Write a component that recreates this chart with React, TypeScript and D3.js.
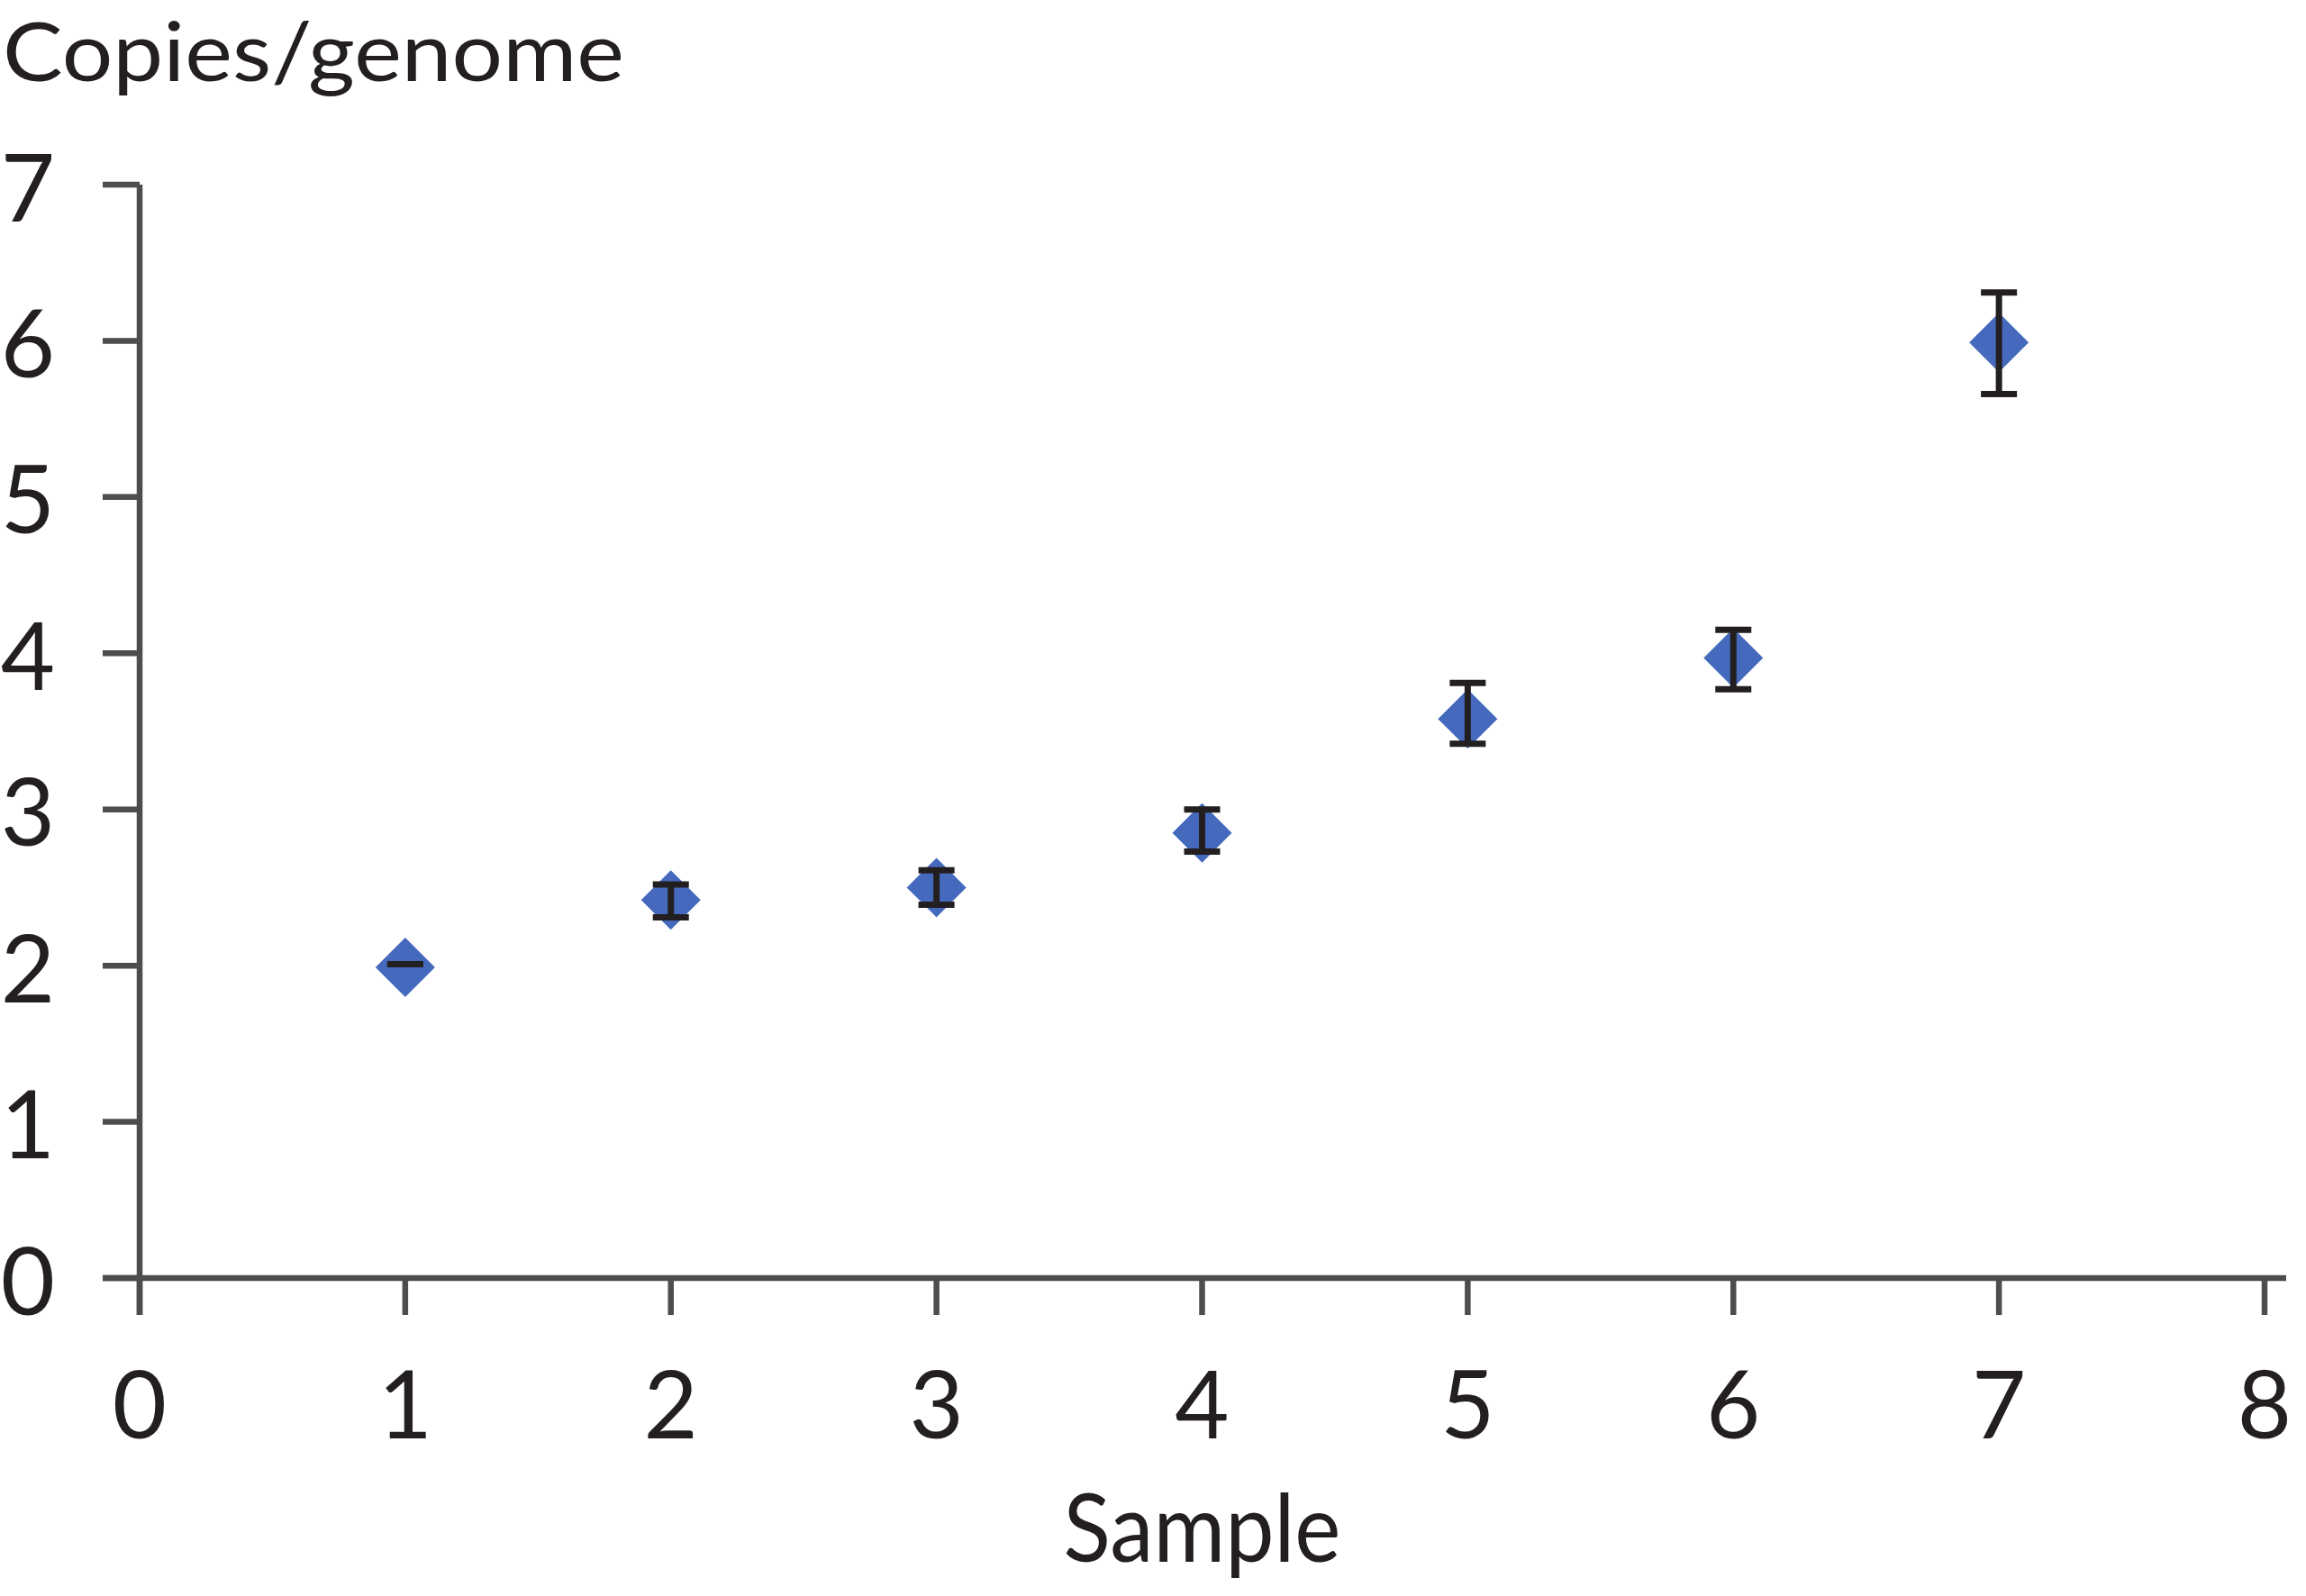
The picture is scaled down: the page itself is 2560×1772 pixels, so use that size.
import React from "react";
import * as d3 from "d3";

const samples = [1, 2, 3, 4, 5, 6, 7];
const copiesMean = [1.99, 2.42, 2.5, 2.85, 3.58, 3.97, 5.99];
const copiesUpper = [2.01, 2.52, 2.61, 3.0, 3.81, 4.15, 6.31];
const copiesLower = [2.01, 2.31, 2.39, 2.73, 3.42, 3.77, 5.66];
const xTicks = [0, 1, 2, 3, 4, 5, 6, 7, 8];
const yTicks = [0, 1, 2, 3, 4, 5, 6, 7];
const yTitle = "Copies/genome";
const xTitle = "Sample";

const W = 2560;
const H = 1772;
const FONT = "Lato, 'Open Sans', sans-serif";
const AXIS = "#4d4d4f";
const INK = "#231f20";
const BLUE = "#4569bd";

export default function App() {
  const x = d3.scaleLinear().domain([0, 8]).range([155, 2514]);
  const y = d3.scaleLinear().domain([0, 7]).range([1419, 205]);
  const tickLen = 41;
  const sw = 6.5;
  const half = 33;
  const capHalf = 20;

  const diamond = d3.symbol().type(d3.symbolSquare).size((half * Math.SQRT2) ** 2)();

  return (
    <svg
      width={W}
      height={H}
      viewBox={`0 0 ${W} ${H}`}
      style={{ position: "absolute", left: 0, top: 0, background: "#fff" }}
    >
      <rect width={W} height={H} fill="#fff" />
      {/* title */}
      <text
        x={3}
        y={90}
        fontFamily={FONT}
        fontSize={91}
        fill={INK}
        textLength={690}
        lengthAdjust="spacingAndGlyphs"
      >
        {yTitle}
      </text>

      {/* y axis */}
      <line x1={x(0)} x2={x(0)} y1={y(7)} y2={y(0) + tickLen} stroke={AXIS} strokeWidth={sw} />
      {yTicks.map((t) => (
        <g key={"yt" + t}>
          <line x1={x(0) - tickLen} x2={x(0)} y1={y(t)} y2={y(t)} stroke={AXIS} strokeWidth={sw} />
          <text
            x={31}
            y={y(t)}
            textAnchor="middle"
            dominantBaseline="central"
            fontFamily={FONT}
            fontSize={104}
            fill={INK}
          >
            {t}
          </text>
        </g>
      ))}

      {/* x axis */}
      <line x1={x(0) - tickLen} x2={x(8) + 24} y1={y(0)} y2={y(0)} stroke={AXIS} strokeWidth={sw} />
      {xTicks.map((t) => (
        <g key={"xt" + t}>
          <line x1={x(t)} x2={x(t)} y1={y(0)} y2={y(0) + tickLen} stroke={AXIS} strokeWidth={sw} />
          <text
            x={x(t)}
            y={1556}
            textAnchor="middle"
            dominantBaseline="central"
            fontFamily={FONT}
            fontSize={104}
            fill={INK}
          >
            {t}
          </text>
        </g>
      ))}
      <text
        x={x(4)}
        y={1734}
        textAnchor="middle"
        fontFamily={FONT}
        fontSize={104}
        fill={INK}
        textLength={308}
        lengthAdjust="spacingAndGlyphs"
      >
        {xTitle}
      </text>

      {/* points */}
      {samples.map((s, i) => (
        <g key={"p" + s}>
          <path
            d={diamond as string}
            transform={`translate(${x(s)},${y(copiesMean[i])}) rotate(45)`}
            fill={BLUE}
          />
          <line
            x1={x(s)}
            x2={x(s)}
            y1={y(copiesUpper[i])}
            y2={y(copiesLower[i])}
            stroke={INK}
            strokeWidth={7}
          />
          <line
            x1={x(s) - capHalf}
            x2={x(s) + capHalf}
            y1={y(copiesUpper[i])}
            y2={y(copiesUpper[i])}
            stroke={INK}
            strokeWidth={7}
          />
          <line
            x1={x(s) - capHalf}
            x2={x(s) + capHalf}
            y1={y(copiesLower[i])}
            y2={y(copiesLower[i])}
            stroke={INK}
            strokeWidth={7}
          />
        </g>
      ))}
    </svg>
  );
}
